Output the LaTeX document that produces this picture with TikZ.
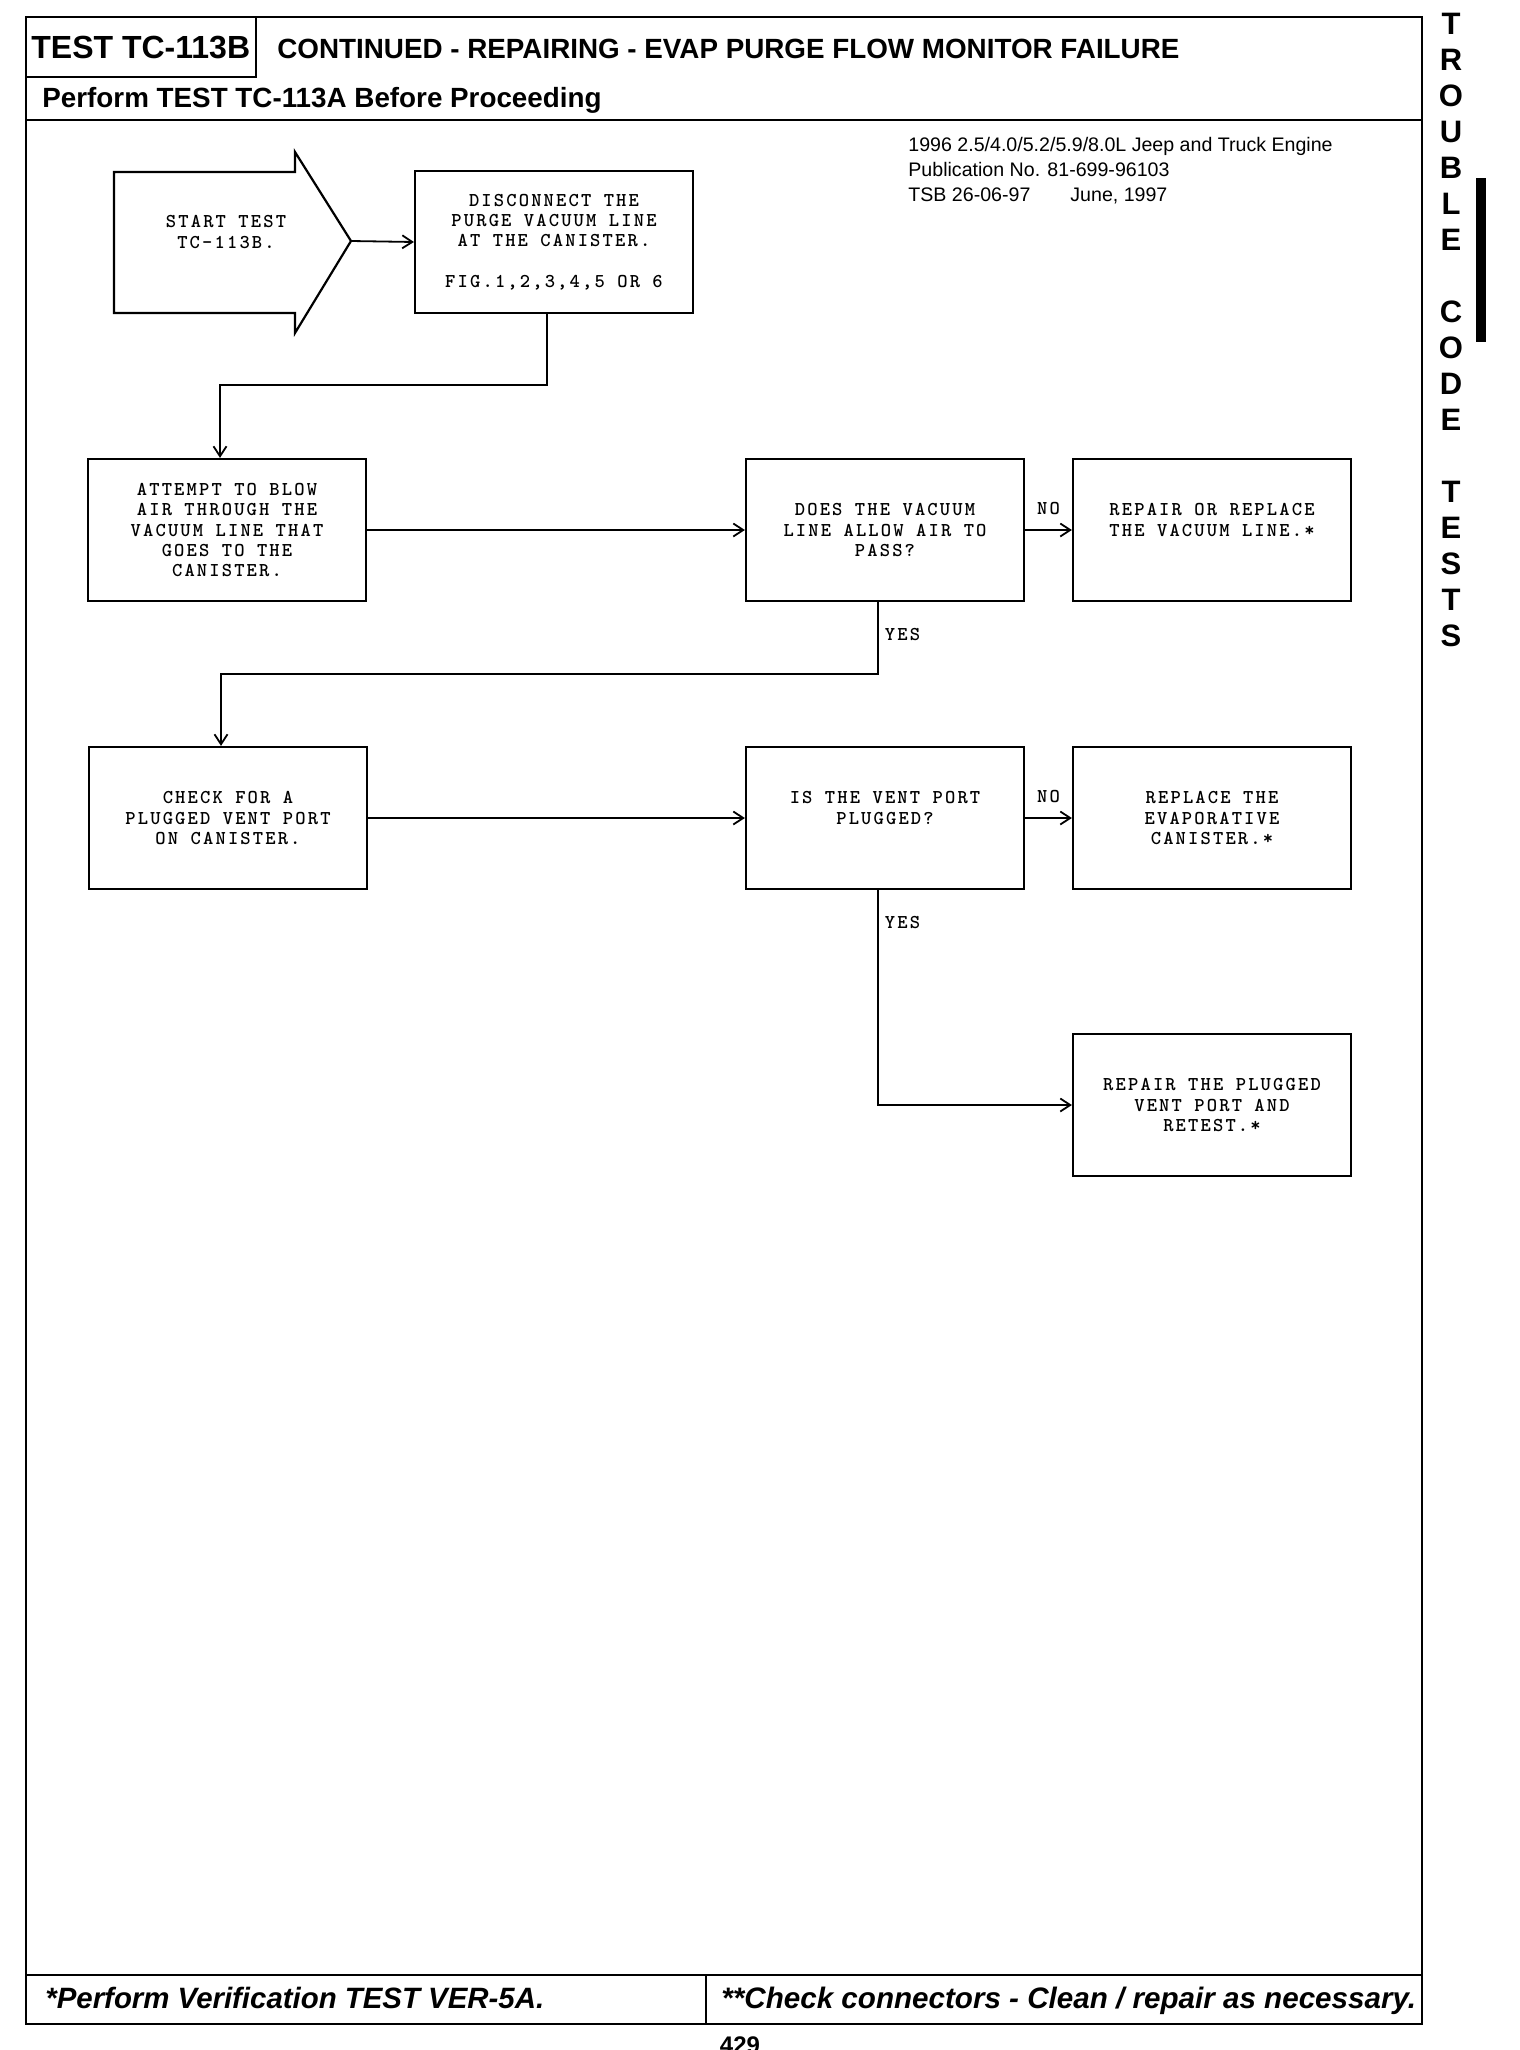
\documentclass[tikz,border=0pt]{standalone}
\usepackage{fontspec}
\usepackage{tikz}
\usetikzlibrary{arrows.meta, calc}
\newfontfamily\hfont{Liberation Sans}
\newfontfamily\boxfont{lmmonolt10-bold.otf}[LetterSpace=11]

\begin{document}
\begin{tikzpicture}[x=0.5pt, y=-0.5pt,
  box/.style={draw, line width=1.1pt, minimum width=139pt, minimum height=71pt, inner sep=0pt, align=center, font=\boxfont\fontsize{9.8}{10.1}\selectfont},
  flow/.style={line width=0.9pt, -{Straight Barb[length=5pt,width=6.5pt]}},
  lbl/.style={font=\boxfont\fontsize{9.8}{10.1}\selectfont, inner sep=3pt},
  frame/.style={line width=1.4pt}]
  \useasboundingbox (0,0) rectangle (1520,2050);
  \fill[white] (0,0) rectangle (1520,2050);

  % page frame and header / footer rows
  \draw[frame] (26,17) rectangle (1422,2024);
  \draw[frame] (26,77) -- (256,77) -- (256,17);
  \draw[frame] (26,120) -- (1422,120);
  \draw[frame] (26,1975) -- (1422,1975);
  \draw[frame] (706,1975) -- (706,2024);

  \node[anchor=base west, inner sep=0pt, font=\hfont\bfseries\fontsize{16}{19}\selectfont] (code) at (31,59) {TEST TC-113B};
  \node[anchor=base west, inner sep=0pt, font=\hfont\bfseries\fontsize{13.9}{16}\selectfont] (title) at (277,59) {CONTINUED - REPAIRING - EVAP PURGE FLOW MONITOR FAILURE};
  \node[anchor=base west, inner sep=0pt, font=\hfont\bfseries\fontsize{13.9}{16}\selectfont] (pre) at (42,108) {Perform TEST TC-113A Before Proceeding};

  \node[anchor=north west, inner sep=0pt, align=left, font=\hfont\fontsize{9.8}{12.4}\selectfont] (pub) at (908,137) {1996 2.5/4.0/5.2/5.9/8.0L Jeep and Truck Engine\\Publication No. 81-699-96103\\TSB 26-06-97\hspace*{20pt}June, 1997};

  % side tab
  \foreach \ch [count=\i from 0] in {T,R,O,U,B,L,E,{},C,O,D,E,{},T,E,S,T,S}
    \node[inner sep=0pt, font=\hfont\bfseries\fontsize{15.5}{16}\selectfont] (side\i) at (1451,{24+36*\i}) {\ch};
  \fill (1476,178) rectangle (1486,342);

  % start arrow
  \node[align=center, inner sep=0pt, font=\boxfont\fontsize{9.8}{10.1}\selectfont] (start) at (226,232) {START TEST\\TC-113B.};
  \draw[line width=1.1pt] (114,172) -- (295,172) -- (295,152) -- (351,241) coordinate (tip)
    -- (295,333) -- (295,313) -- (114,313) -- cycle;

  % boxes
  \node[box] (dis) at (554,242) {DISCONNECT THE\\PURGE VACUUM LINE\\AT THE CANISTER.\\[10pt]FIG.1,2,3,4,5 OR 6};
  \node[box] (blow) at (227,530) {ATTEMPT TO BLOW\\AIR THROUGH THE\\VACUUM LINE THAT\\GOES TO THE\\CANISTER.};
  \node[box] (passq) at (885,530) {DOES THE VACUUM\\LINE ALLOW AIR TO\\PASS?};
  \node[box] (fixline) at (1212,530) {REPAIR OR REPLACE\\THE VACUUM LINE.*\\\mbox{}};
  \node[box] (vent) at (228,818) {CHECK FOR A\\PLUGGED VENT PORT\\ON CANISTER.};
  \node[box] (ventq) at (885,818) {IS THE VENT PORT\\PLUGGED?\\\mbox{}};
  \node[box] (newcan) at (1212,818) {REPLACE THE\\EVAPORATIVE\\CANISTER.*};
  \node[box] (fixvent) at (1212,1105) {REPAIR THE PLUGGED\\VENT PORT AND\\RETEST.*};

  % connectors
  \draw[flow] (tip) -- (dis.west);
  \draw[flow] ([xshift=-3.5pt]dis.south) -- ++(0,71) -| ([xshift=-3.5pt]blow.north);
  \draw[flow] (blow.east) -- (passq.west);
  \draw[flow] (passq.east) -- node[lbl, above, yshift=4pt] {NO} (fixline.west);
  \draw[flow] ([xshift=-3.5pt]passq.south) -- ++(0,32) node[lbl, right] {YES} -- ++(0,40) -| ([xshift=-3.5pt]vent.north);
  \draw[flow] (vent.east) -- (ventq.west);
  \draw[flow] (ventq.east) -- node[lbl, above, yshift=4pt] {NO} (newcan.west);
  \draw[flow] ([xshift=-3.5pt]ventq.south) -- ++(0,32) node[lbl, right] {YES} |- (fixvent.west);

  % footer
  \node[anchor=base west, inner sep=0pt, font=\hfont\bfseries\itshape\fontsize{14.7}{16}\selectfont] (note1) at (45,2008) {*Perform Verification TEST VER-5A.};
  \node[anchor=base west, inner sep=0pt, font=\hfont\bfseries\itshape\fontsize{14.8}{16}\selectfont] (note2) at (721,2008) {**Check connectors - Clean / repair as necessary.};
  \node[anchor=north, inner sep=0pt, font=\hfont\bfseries\fontsize{12}{14}\selectfont] (page) at (740,2036) {429};
\end{tikzpicture}
\end{document}
